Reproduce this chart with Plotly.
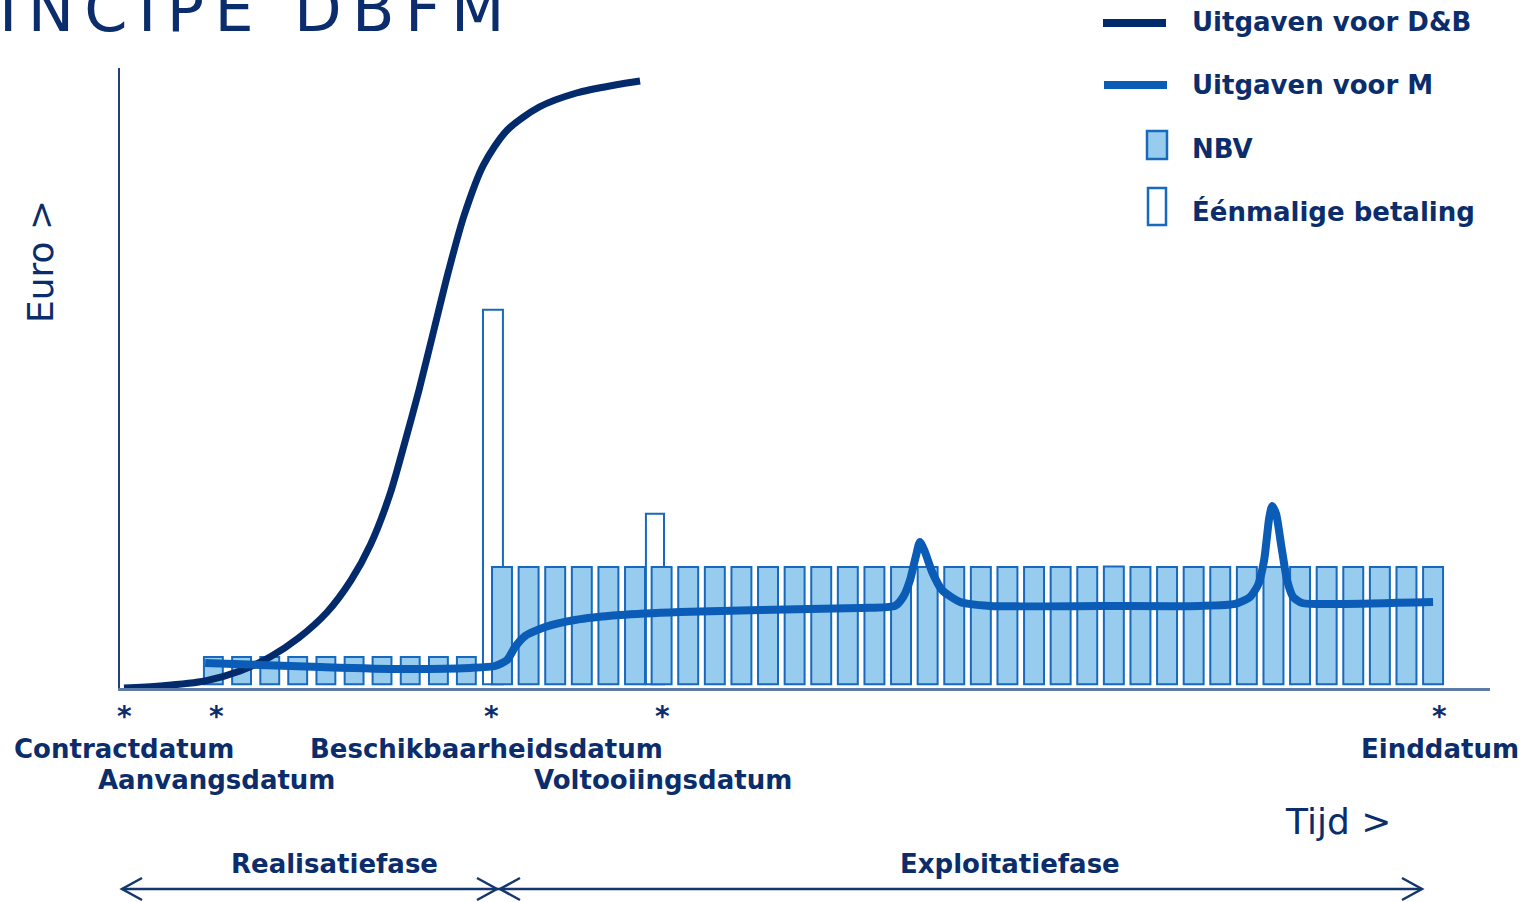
import plotly.graph_objects as go

# ---------------- data ----------------
# time axis unit: one exploitation period (large bar pitch); y: relative euro amount
periode_bouw = [3.15, 4.21, 5.27, 6.32, 7.38, 8.44, 9.49, 10.55, 11.61, 12.66]
nbv_bouw = [5.0, 5.0, 5.0, 5.0, 5.0, 5.0, 5.0, 5.0, 5.0, 5.0]

periode_exploitatie = [14, 15, 16, 17, 18, 19, 20, 21, 22, 23, 24, 25,
                       26, 27, 28, 29, 30, 31, 32, 33, 34, 35, 36, 37,
                       38, 39, 40, 41, 42, 43, 44, 45, 46, 47, 48, 49]
nbv_exploitatie = [19.5, 19.5, 19.5, 19.5, 19.5, 19.5, 19.5, 19.5, 19.5, 19.5, 19.5, 19.5,
                   19.5, 19.5, 19.5, 19.5, 19.5, 19.5, 19.5, 19.5, 19.5, 19.5, 19.5, 19.6,
                   19.5, 19.5, 19.5, 19.5, 19.5, 19.5, 19.5, 19.5, 19.5, 19.5, 19.5, 19.5]

eenmalig_periode = [13.66, 19.75]
eenmalig_bedrag = [61.0, 28.1]

db_t = [-0.21, 1.14, 2.84, 4.15, 5.28, 6.35, 7.43, 8.33, 9.05, 9.78, 10.32,
        10.88, 11.44, 12.00, 12.58, 13.30, 14.20, 15.40, 16.80, 18.25, 19.19]
db_euro = [0.0, 0.32, 1.13, 2.74, 5.0, 8.06, 12.26, 17.42, 23.06, 31.13, 39.19,
           48.06, 57.74, 67.42, 76.29, 84.35, 90.0, 93.71, 95.97, 97.26, 97.9]

m_t = [2.84, 4.90, 7.16, 10.17, 12.80, 13.74, 14.19, 14.49, 14.87, 15.62, 16.74,
       18.44, 20.69, 23.70, 27.46, 28.77, 29.08, 29.34, 29.56, 29.71, 29.90, 30.17,
       30.54, 31.22, 32.35, 36.48, 40.24, 41.56, 42.12, 42.42, 42.65, 42.84, 42.95,
       43.10, 43.29, 43.51, 43.74, 44.08, 45.50, 49.00]
m_euro = [4.03, 3.71, 3.39, 3.06, 3.23, 3.55, 4.52, 6.61, 8.39, 9.84, 10.97,
          11.77, 12.26, 12.58, 12.90, 13.23, 14.68, 17.42, 21.29, 23.55, 21.94, 18.71,
          15.81, 13.87, 13.23, 13.23, 13.23, 13.55, 14.68, 16.61, 20.65, 27.42, 29.35,
          28.06, 23.06, 17.42, 14.68, 13.71, 13.55, 13.87]

mijlpaal_namen = ["Contractdatum", "Aanvangsdatum", "Beschikbaarheidsdatum",
                  "Voltooiingsdatum", "Einddatum"]
mijlpaal_t = [-0.2, 3.25, 13.6, 20.05, 49.25]
mijlpaal_rij = [0, 1, 0, 1, 0]

fase_namen = ["Realisatiefase", "Exploitatiefase"]
legenda_namen = ["Uitgaven voor D&B", "Uitgaven voor M", "NBV", "Éénmalige betaling"]

# ---------------- style / layout ----------------
W, H = 1532, 902
ML, MR, MT, MB = 120, 42, 68, 214
PW, PH = W - ML - MR, H - MT - MB

def px(xp):
    return (xp - ML) / PW

def py(yp):
    return (H - MB - yp) / PH

FONT = "DejaVu Sans"
NAVY = "#0c2d6b"
DB_COLOR = "#032b6c"
M_COLOR = "#0a5cb6"
BAR_FILL = "#97ccee"
BAR_LINE = "#1769bd"
BASE = 0.6

fig = go.Figure()

fig.add_trace(go.Bar(
    x=eenmalig_periode, y=[v - BASE for v in eenmalig_bedrag], base=BASE,
    width=[0.75, 0.68], name=legenda_namen[3],
    marker=dict(color="white", line=dict(color=BAR_LINE, width=2))))
fig.add_trace(go.Bar(
    x=periode_bouw, y=[v - BASE for v in nbv_bouw], base=BASE, width=0.71,
    name=legenda_namen[2],
    marker=dict(color=BAR_FILL, line=dict(color=BAR_LINE, width=2))))
fig.add_trace(go.Bar(
    x=periode_exploitatie, y=[v - BASE for v in nbv_exploitatie], base=BASE, width=0.75,
    name=legenda_namen[2],
    marker=dict(color=BAR_FILL, line=dict(color=BAR_LINE, width=2))))
fig.add_trace(go.Scatter(
    x=db_t, y=db_euro, mode="lines", name=legenda_namen[0],
    line=dict(color=DB_COLOR, width=7, shape="spline", smoothing=0.8)))
fig.add_trace(go.Scatter(
    x=m_t, y=m_euro, mode="lines", name=legenda_namen[1],
    line=dict(color=M_COLOR, width=8, shape="spline", smoothing=0.6)))

ann = []
shapes = []

# title (cut off at top, as in the source slide)
SP = "\u2006"
ann.append(dict(text=SP.join("INCIPE") + SP + " " + SP + SP.join("DBFM"),
                xref="paper", yref="paper", x=px(-3), y=1, xanchor="left", yanchor="middle",
                yshift=MT - 9, showarrow=False,
                font=dict(family=FONT, size=62, color=NAVY)))

# axis titles
ann.append(dict(text="Euro >", xref="paper", yref="paper", x=px(40), y=py(262),
                textangle=-90, showarrow=False, xanchor="center", yanchor="middle",
                font=dict(family=FONT, size=36, color=NAVY)))
ann.append(dict(text="Tijd >", xref="paper", yref="paper", x=px(1283), y=py(821),
                showarrow=False, xanchor="left", yanchor="middle",
                font=dict(family=FONT, size=36, color=NAVY)))

# milestones
for naam, t, rij in zip(mijlpaal_namen, mijlpaal_t, mijlpaal_rij):
    ann.append(dict(text="*", xref="x", yref="paper", x=t, y=0, yshift=-28,
                    showarrow=False, xanchor="center", yanchor="middle",
                    font=dict(family=FONT, size=28, color=NAVY, weight="bold")))
    xs = -5 if naam == "Beschikbaarheidsdatum" else 0
    ann.append(dict(text=naam, xref="x", yref="paper", x=t, y=0,
                    yshift=-61 - 31 * rij, xshift=xs,
                    showarrow=False, xanchor="center", yanchor="middle",
                    font=dict(family=FONT, size=26, color=NAVY, weight="bold")))

# phases
for naam, cx in zip(fase_namen, [334, 1010]):
    ann.append(dict(text=naam, xref="paper", yref="paper", x=px(cx), y=py(864),
                    showarrow=False, xanchor="center", yanchor="middle",
                    font=dict(family=FONT, size=26, color=NAVY, weight="bold")))

ARROW = "#15376f"
yA = 889
shapes.append(dict(type="line", xref="paper", yref="paper",
                   x0=px(122), x1=px(1422), y0=py(yA), y1=py(yA),
                   line=dict(color=ARROW, width=2.5)))
for tip, d in [(122, 1), (497, -1), (500, 1), (1422, -1)]:
    path = "M {:.5f},{:.5f} L {:.5f},{:.5f} L {:.5f},{:.5f}".format(
        px(tip + 20 * d), py(yA - 11), px(tip), py(yA), px(tip + 20 * d), py(yA + 11))
    shapes.append(dict(type="path", xref="paper", yref="paper", path=path,
                       line=dict(color=ARROW, width=2.5)))

# legend (drawn manually)
shapes.append(dict(type="line", xref="paper", yref="paper", x0=px(1103), x1=px(1166),
                   y0=py(23), y1=py(23), line=dict(color=DB_COLOR, width=8)))
shapes.append(dict(type="line", xref="paper", yref="paper", x0=px(1104), x1=px(1167),
                   y0=py(85), y1=py(85), line=dict(color=M_COLOR, width=8)))
shapes.append(dict(type="rect", xref="paper", yref="paper", x0=px(1147), x1=px(1167),
                   y0=py(159), y1=py(131), fillcolor=BAR_FILL,
                   line=dict(color=BAR_LINE, width=2.5)))
shapes.append(dict(type="rect", xref="paper", yref="paper", x0=px(1148), x1=px(1166),
                   y0=py(225), y1=py(188), fillcolor="white",
                   line=dict(color=BAR_LINE, width=2.5)))
for naam, cy in zip(legenda_namen, [22.5, 85.5, 148.5, 211.5]):
    ann.append(dict(text=naam, xref="paper", yref="paper", x=px(1190), y=py(cy),
                    showarrow=False, xanchor="left", yanchor="middle",
                    font=dict(family=FONT, size=26, color=NAVY, weight="bold")))

fig.update_layout(
    width=W, height=H,
    margin=dict(l=ML, r=MR, t=MT, b=MB, pad=0),
    paper_bgcolor="white", plot_bgcolor="white",
    barmode="overlay", showlegend=False, hovermode=False,
    annotations=ann, shapes=shapes,
    xaxis=dict(range=[-0.36, 51.14], showgrid=False, zeroline=False, showticklabels=False,
               ticks="", showline=True, linecolor="#5d7aa8", linewidth=2.5),
    yaxis=dict(range=[0, 100], showgrid=False, zeroline=False, showticklabels=False,
               ticks="", showline=True, linecolor="#22407d", linewidth=1.5),
)

fig.write_html("out.html", config={"displayModeBar": False},
               post_script="document.body.style.margin='0';document.body.style.overflow='hidden';")
